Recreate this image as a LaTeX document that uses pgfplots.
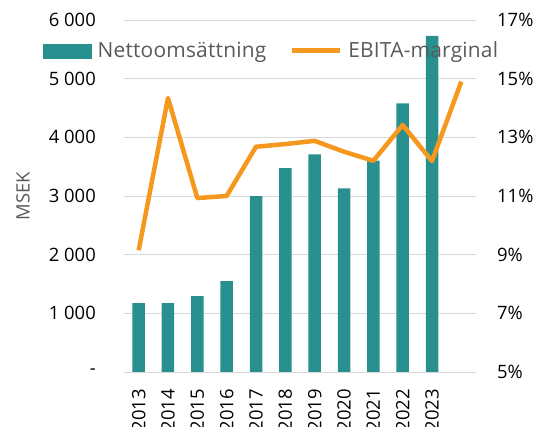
\documentclass[border=0pt]{standalone}
\usepackage{pgfplots}
\pgfplotsset{compat=1.18}
\usepackage{fontspec}
\setmainfont{Open Sans}
\newfontfamily\legendfont[LetterSpace=1]{Open Sans}
\definecolor{barteal}{HTML}{28908F}
\definecolor{lineorange}{HTML}{F7981E}
\definecolor{gridgrey}{HTML}{D9D9D9}
\definecolor{textgrey}{HTML}{595959}
\begin{document}
\fontsize{18.5}{22}\selectfont
\begin{tikzpicture}
\begin{axis}[
  scale only axis, width=352bp, height=352bp,
  xmin=-0.5, xmax=11.5, ymin=0, ymax=6000,
  axis x line*=bottom, axis y line*=left,
  y axis line style={draw=none},
  x axis line style={gridgrey, line width=1bp},
  major tick length=0pt,
  xtick={0,...,10},
  xticklabels={2013,2014,2015,2016,2017,2018,2019,2020,2021,2022,2023},
  xticklabel style={rotate=90, anchor=east, inner sep=0pt},
  xticklabel shift=17bp,
  ytick={0,1000,2000,3000,4000,5000,6000},
  yticklabels={{-\hspace{10bp}},1~000,2~000,3~000,4~000,5~000,6~000},
  yticklabel style={inner sep=0pt},
  yticklabel shift=28bp,
  ymajorgrids, grid style={gridgrey, line width=1bp},
  ylabel={MSEK},
  ylabel style={at={(axis description cs:-0.287,0.5)}, anchor=center, rotate=0, text=textgrey, inner sep=0pt},
  tick label style={text=black},
]
\coordinate (sw) at (rel axis cs:0,0);
\addplot[ybar, bar width=12.5bp, fill=barteal, draw=none] coordinates {
(0,1175) (1,1172) (2,1295) (3,1550) (4,3000) (5,3477) (6,3710) (7,3131) (8,3602) (9,4580) (10,5730)
};
\end{axis}
\begin{axis}[
  scale only axis, width=352bp, height=352bp,
  xmin=-0.5, xmax=11.5, ymin=5, ymax=17,
  axis x line=none, axis y line*=right,
  y axis line style={draw=none},
  major tick length=0pt,
  ytick={5,7,9,11,13,15,17},
  yticklabels={5\%,7\%,9\%,11\%,13\%,15\%,17\%},
  yticklabel style={inner sep=0pt, text=black},
  yticklabel shift=21bp,
  legend columns=2,
  legend style={draw=none, fill=none, at={(axis description cs:-0.2301,0.912)}, anchor=west,
    font=\fontsize{21}{24}\legendfont\color{textgrey}, inner sep=0pt,
    /tikz/every odd column/.append style={column sep=4bp},
    /tikz/every even column/.append style={column sep=21bp}},
  legend cell align=left,
]
\addlegendimage{legend image code/.code={\fill[barteal] (0bp,-7bp) rectangle (48bp,7bp);}}
\addlegendentry{Nettoomsättning}
\addplot[lineorange, line width=4.5bp, line join=round, mark=none,
  legend image code/.code={\draw[lineorange, line width=5bp] (0bp,0bp) -- (48bp,0bp);}] coordinates {
(0,9.15) (1,14.34) (2,10.93) (3,11.0) (4,12.68) (5,12.77) (6,12.88) (7,12.51) (8,12.2) (9,13.42) (10,12.19) (11,14.9)
};
\addlegendentry{EBITA-marginal}
\end{axis}
\pgfresetboundingbox
\path[use as bounding box] ([shift={(-124bp,-55bp)}]sw) rectangle ++(536bp,427bp);
\end{tikzpicture}
\end{document}
